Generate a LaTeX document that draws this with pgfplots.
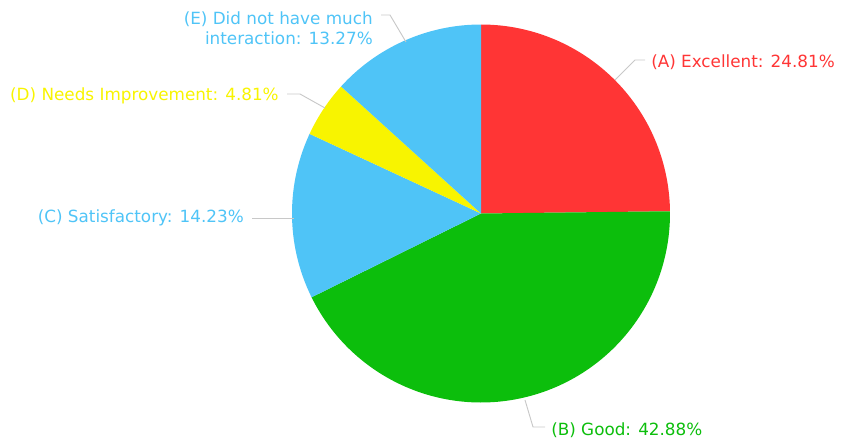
\documentclass[border=0pt]{standalone}
\usepackage{pgfplots}
\pgfplotsset{compat=1.18}
\usepackage{pgfplotstable}
\usepackage{fontspec}
\setmainfont{DejaVu Sans}
\definecolor{cA}{HTML}{FF3535}
\definecolor{cB}{HTML}{0CBE0C}
\definecolor{cC}{HTML}{4FC4F7}
\definecolor{cD}{HTML}{F8F400}
\definecolor{cE}{HTML}{4FC4F7}
\definecolor{lead}{HTML}{C8C8C8}
\tikzset{lbl/.style={font=\fontsize{12.6}{15}\selectfont, inner sep=0pt}}
% shares (percent), clockwise from 12 o'clock
\def\pA{24.81}\def\pB{42.88}\def\pC{14.23}\def\pD{4.81}\def\pE{13.27}
\pgfmathsetmacro{\sA}{90}
\pgfmathsetmacro{\sB}{\sA-3.6*\pA}
\pgfmathsetmacro{\sC}{\sB-3.6*\pB}
\pgfmathsetmacro{\sD}{\sC-3.6*\pC}
\pgfmathsetmacro{\sE}{\sD-3.6*\pD}
\pgfmathsetmacro{\sF}{\sE-3.6*\pE}
\def\cx{481}\def\cy{230.5}\def\rr{189}
\begin{document}
\begin{tikzpicture}
\begin{axis}[
  hide axis, scale only axis, clip=false,
  width=630.75pt, height=333pt,
  xmin=0, xmax=841, ymin=0, ymax=444,
]
\path (axis cs:0,0) rectangle (axis cs:841,444);
\addplot[fill=cA, draw=none, domain=\sB:\sA, samples=80, variable=\t]
  ({\cx+\rr*cos(\t)},{\cy+\rr*sin(\t)}) -- (\cx,\cy) -- cycle;
\addplot[fill=cB, draw=none, domain=\sC:\sB, samples=120, variable=\t]
  ({\cx+\rr*cos(\t)},{\cy+\rr*sin(\t)}) -- (\cx,\cy) -- cycle;
\addplot[fill=cC, draw=none, domain=\sD:\sC, samples=60, variable=\t]
  ({\cx+\rr*cos(\t)},{\cy+\rr*sin(\t)}) -- (\cx,\cy) -- cycle;
\addplot[fill=cD, draw=none, domain=\sE:\sD, samples=30, variable=\t]
  ({\cx+\rr*cos(\t)},{\cy+\rr*sin(\t)}) -- (\cx,\cy) -- cycle;
\addplot[fill=cE, draw=none, domain=\sF:\sE, samples=60, variable=\t]
  ({\cx+\rr*cos(\t)},{\cy+\rr*sin(\t)}) -- (\cx,\cy) -- cycle;
% leader lines
\addplot[lead, line width=0.7pt, no markers] coordinates {(615,364) (635,384) (645,384)};
\addplot[lead, line width=0.7pt, no markers] coordinates {(525,44) (533,17) (545,17)};
\addplot[lead, line width=0.7pt, no markers] coordinates {(294,226) (252,226)};
\addplot[lead, line width=0.7pt, no markers] coordinates {(325,336) (300,350) (287,350)};
\addplot[lead, line width=0.7pt, no markers] coordinates {(406,402) (390,429) (381,429)};
% labels
\node[lbl, anchor=west, text=cA] at (axis cs:651,382) {(A) Excellent: 24.81\%};
\node[lbl, anchor=west, text=cB] at (axis cs:551,14) {(B) Good: 42.88\%};
\node[lbl, anchor=east, text=cC] at (axis cs:244,226) {(C) Satisfactory: 14.23\%};
\node[lbl, anchor=east, text=cD] at (axis cs:279,348) {(D) Needs Improvement: 4.81\%};
\node[lbl, anchor=east, text=cE, align=right] at (axis cs:373,416) {(E) Did not have much\\interaction: 13.27\%};
\end{axis}
\end{tikzpicture}
\end{document}
